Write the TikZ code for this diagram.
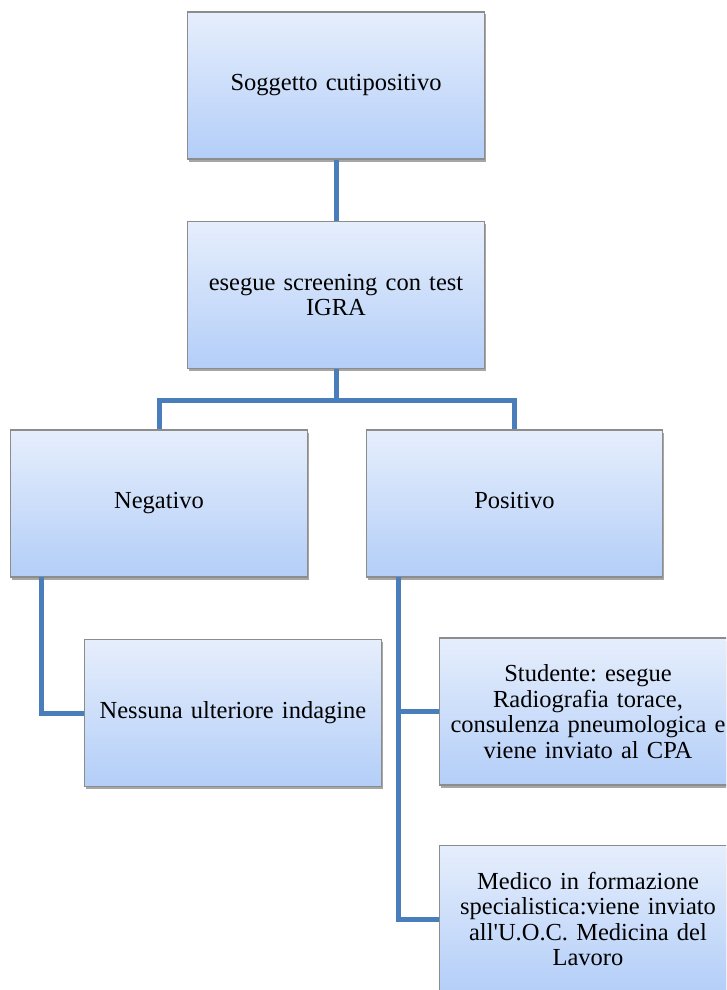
\documentclass[tikz,border=0pt]{standalone}
\usepackage{fontspec}
\setmainfont{Liberation Serif}
\frenchspacing
\usetikzlibrary{calc,shadows}

\definecolor{boxtop}{HTML}{E6EEFC}
\definecolor{boxbot}{HTML}{B3CEF8}
\definecolor{boxline}{HTML}{8C8C8C}
\definecolor{linkblue}{HTML}{4A7EBB}

\tikzset{
  flowbox/.style={rectangle,draw=boxline,line width=1.2pt,top color=boxtop,bottom color=boxbot,
    minimum width=294pt,minimum height=147pt,text width=290pt,align=center,
    font=\fontsize{24.5}{25.5}\selectfont,
    drop shadow={shadow xshift=1.5pt,shadow yshift=-2.5pt,opacity=0.35,fill=black}},
  link/.style={draw=linkblue,line width=5pt}
}

\begin{document}
\begin{tikzpicture}[x=1pt,y=-1pt]
              \useasboundingbox (0,0) rectangle (726,990);
              \fill[white] (0,0) rectangle (726,990);
              \clip (0,0) rectangle (726,990);
              % connectors first, boxes on top
              \coordinate (fork) at (336,400);
              \coordinate (negdrop) at (41,577);
              \coordinate (posdrop) at (398,577);
              \node[flowbox](sog)at(336,85.5){Soggetto cutipositivo};
              \node[flowbox](igra)at(336,295){esegue screening con test\\IGRA};
              \node[flowbox](neg)at(159,503.5){Negativo};
              \node[flowbox](pos)at(514.5,503.5){Positivo\vphantom{g}};
              \node[flowbox](ness)at(233,713){Nessuna ulteriore indagine};
              \node[flowbox](stud)at(588,711.5){Studente: esegue\\Radiografia torace,\\consulenza pneumologica e\\viene inviato al CPA};
              \node[flowbox](med)at(588,919){Medico in formazione\\specialistica:viene inviato\\all\textquotesingle U.O.C. Medicina del\\Lavoro};
              \draw[link](sog)--(igra);
              \draw[link](igra)--(fork);
              \draw[link](neg.north)|-(fork)-|(pos.north);
              \draw[link](negdrop)|-(ness.west);
              \draw[link](posdrop)|-(stud.west);
              \draw[link](posdrop)|-(med.west);
            \end{tikzpicture}
\end{document}
